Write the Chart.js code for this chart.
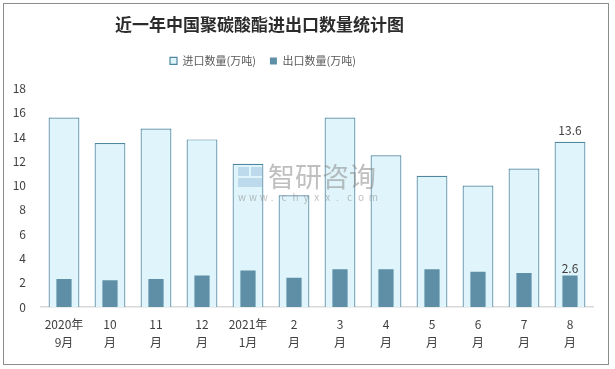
<!DOCTYPE html>
<html>
<head>
<meta charset="utf-8">
<script src="https://cdn.jsdelivr.net/npm/chart.js@4/dist/chart.umd.min.js"></script>
<style>
  html, body { margin: 0; padding: 0; background: #fff; }
  #wrap { position: absolute; left: 3px; top: 3px; width: 606px; height: 362px; border: 1px solid #8c8c8c; box-sizing: border-box; }
  canvas { display: block; }
</style>
</head>
<body>
<div id="wrap"><canvas id="chart"></canvas></div>
<script>
const months = [['2020年', '9月'], ['10', '月'], ['11', '月'], ['12', '月'], ['2021年', '1月'], ['2', '月'], ['3', '月'], ['4', '月'], ['5', '月'], ['6', '月'], ['7', '月'], ['8', '月']];
const importQty = [15.6, 13.5, 14.7, 13.8, 11.8, 9.2, 15.6, 12.5, 10.8, 10.0, 11.4, 13.6];
const exportQty = [2.3, 2.2, 2.3, 2.6, 3.0, 2.4, 3.1, 3.1, 3.1, 2.9, 2.8, 2.6];
const seriesNames = ['进口数量(万吨)', '出口数量(万吨)'];

const FONT = '"Noto Sans CJK SC", "Microsoft YaHei", sans-serif';

// labels only on the last month, like the original
const lastValueLabels = {
    id: 'lastValueLabels',
    afterDatasetsDraw(chart) {
        const ctx = chart.ctx;
        ctx.save();
        ctx.font = '12px ' + FONT;
        ctx.fillStyle = '#404040';
        ctx.textAlign = 'center';
        ctx.textBaseline = 'bottom';
        chart.data.datasets.forEach((ds, i) => {
            const meta = chart.getDatasetMeta(i);
            const last = meta.data[meta.data.length - 1];
            const v = ds.data[ds.data.length - 1];
            ctx.fillText(v.toFixed(1), last.x, last.y - (i === 0 ? 5 : 1));
        });
        ctx.restore();
    }
};

const watermark = {
    id: 'watermark',
    afterDatasetsDraw(chart) {
        const ctx = chart.ctx;
        ctx.save();
        ctx.globalAlpha = 0.55;
        ctx.fillStyle = '#9fc3e0';
        ctx.fillRect(234, 163, 11, 9);
        ctx.fillRect(247, 163, 11, 9);
        ctx.fillRect(234, 174, 24, 9);
        ctx.fillStyle = '#8a8a8a';
        ctx.font = '27px ' + FONT;
        ctx.textBaseline = 'middle';
        ctx.fillText('智研咨询', 264, 173);
        ctx.font = '10px ' + FONT;
        const site = 'www.chyxx.com';
        for (let i = 0; i < site.length; i++) {
            ctx.fillText(site[i], 234 + i * 10.9, 193);
        }
        ctx.restore();
    }
};

// title and legend sit left of centre in the original
const headerPlace = {
    id: 'headerPlace',
    beforeInit(chart) {
        const fit = chart.legend.fit;
        chart.legend.fit = function () {
            fit.call(this);
            this.height += 12;
        };
    },
    afterLayout(chart) {
        const lg = chart.legend;
        const w = lg.right - lg.left;
        lg.left = 152;
        lg.right = lg.left + w;
        const tb = chart.titleBlock;
        const tw = tb.right - tb.left;
        tb.left = 111;
        tb.right = tb.left + tw;
    }
};

new Chart(document.getElementById('chart'), {
    type: 'bar',
    data: {
        labels: months,
        datasets: [{
            label: seriesNames[0],
            data: importQty,
            backgroundColor: '#e0f5fb',
            borderColor: '#4f86a0',
            borderWidth: 1.2,
            barPercentage: 0.67,
            categoryPercentage: 1,
            grouped: false,
            order: 1
        }, {
            label: seriesNames[1],
            data: exportQty,
            backgroundColor: '#5e8fa6',
            borderColor: '#5e8fa6',
            borderWidth: 0,
            barPercentage: 0.33,
            categoryPercentage: 1,
            grouped: false,
            order: 0
        }]
    },
    options: {
        responsive: true,
        maintainAspectRatio: false,
        animation: false,
        layout: { padding: { left: 0, right: 15, top: 0, bottom: 5 } },
        scales: {
            x: {
                grid: { display: false, drawTicks: false },
                border: { color: '#d9d9d9', width: 1.5 },
                ticks: { color: '#404040', font: { family: FONT, size: 12, lineHeight: 1.5 }, maxRotation: 0, padding: 8 }
            },
            y: {
                min: 0,
                max: 18,
                grid: { display: false, drawTicks: false },
                border: { display: false },
                ticks: { stepSize: 2, color: '#404040', font: { family: FONT, size: 12 }, padding: 15 },
                afterFit: (scale) => { scale.width = 37; }
            }
        },
        plugins: {
            title: {
                display: true,
                align: 'start',
                text: '近一年中国聚碳酸酯进出口数量统计图',
                color: '#2b2b2b',
                font: { family: FONT, size: 17, weight: 'bold' },
                padding: { top: 10, bottom: 7 }
            },
            legend: {
                align: 'start',
                labels: {
                    boxWidth: 7,
                    boxHeight: 7,
                    padding: 14,
                    color: '#595959',
                    font: { family: FONT, size: 11 },
                    sort: (a, b) => a.datasetIndex - b.datasetIndex
                }
            },
            tooltip: { enabled: false }
        }
    },
    plugins: [lastValueLabels, watermark, headerPlace]
});
</script>
</body>
</html>
